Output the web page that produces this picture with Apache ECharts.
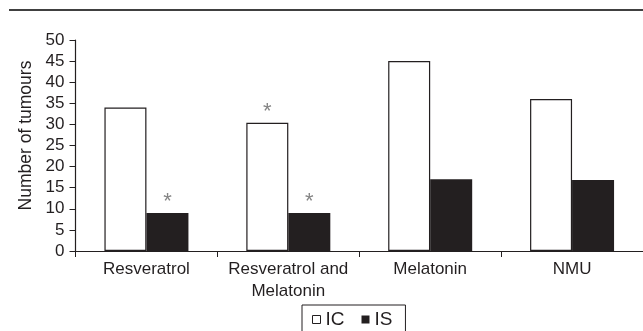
<!DOCTYPE html>
<html>
<head>
<meta charset="utf-8">
<script src="https://cdn.jsdelivr.net/npm/echarts@6/dist/echarts.min.js"></script>
<style>
html,body{margin:0;padding:0;background:#fff;}
#chart{width:643px;height:331px;}
</style>
</head>
<body>
<div id="chart"></div>
<script>
var categories = ['Resveratrol', 'Resveratrol and\nMelatonin', 'Melatonin', 'NMU'];
var icValues = [34, 30.4, 45, 36];
var isValues = [9, 9, 17, 16.8];
var icMarks = ['', '*', '', ''];
var isMarks = ['*', '*', '', ''];
var yTicks = [0, 5, 10, 15, 20, 25, 30, 35, 40, 45, 50];

var ink = '#231f20';
var font = '"Liberation Sans", Arial, Helvetica, sans-serif';

var chart = echarts.init(document.getElementById('chart'), null, {renderer: 'canvas'});

function markLabel(marks) {
  return {
    show: true,
    position: 'top',
    distance: 0,
    color: '#858585',
    fontSize: 22,
    fontFamily: font,
    formatter: function (p) { return marks[p.dataIndex]; }
  };
}

chart.setOption({
  animation: false,
  backgroundColor: '#ffffff',
  textStyle: {fontFamily: font, color: ink},
  grid: {left: 75.5, right: -4, top: 40, bottom: 80, containLabel: false},
  graphic: [{
    type: 'line',
    shape: {x1: 9, y1: 10, x2: 643, y2: 10},
    style: {stroke: '#000', lineWidth: 1.5}
  }],
  legend: {
    left: 302,
    top: 305,
    orient: 'horizontal',
    borderColor: ink,
    borderWidth: 1,
    padding: [5, 13, 15, 10],
    itemWidth: 8,
    itemHeight: 8,
    itemGap: 17,
    textStyle: {fontSize: 19, color: ink, fontFamily: font},
    data: [
      {name: 'IC', icon: 'rect', itemStyle: {color: '#fff', borderColor: ink, borderWidth: 1}},
      {name: 'IS', icon: 'rect', itemStyle: {color: ink, borderWidth: 0}}
    ]
  },
  xAxis: {
    type: 'category',
    data: categories,
    boundaryGap: true,
    axisLine: {show: true, lineStyle: {color: ink, width: 1.2}},
    axisTick: {show: true, length: 6, inside: false, alignWithLabel: false, lineStyle: {color: ink, width: 1}},
    axisLabel: {fontSize: 17, color: ink, fontFamily: font, margin: 7, lineHeight: 22, interval: 0, align: 'center'}
  },
  yAxis: {
    type: 'value',
    min: 0,
    max: 50,
    interval: 5,
    name: 'Number of tumours',
    nameLocation: 'middle',
    nameGap: 39,
    nameRotate: 90,
    nameTextStyle: {fontSize: 17.5, color: ink, fontFamily: font, padding: [0, 0, 0, 20]},
    splitLine: {show: false},
    axisLine: {show: true, lineStyle: {color: ink, width: 1.2}},
    axisTick: {show: true, length: 6, inside: false, lineStyle: {color: ink, width: 1}},
    axisLabel: {fontSize: 17, color: ink, fontFamily: font, margin: 11,
      formatter: function (v) { return yTicks.indexOf(v) >= 0 ? String(v) : ''; }}
  },
  series: [
    {
      name: 'IC',
      type: 'bar',
      data: icValues,
      barWidth: 42,
      barGap: '0%',
      itemStyle: {color: '#fff', borderColor: ink, borderWidth: 1.2},
      label: markLabel(icMarks)
    },
    {
      name: 'IS',
      type: 'bar',
      data: isValues,
      barWidth: 42,
      barGap: '0%',
      itemStyle: {color: ink, borderColor: ink, borderWidth: 0},
      label: markLabel(isMarks)
    }
  ]
});
</script>
</body>
</html>
